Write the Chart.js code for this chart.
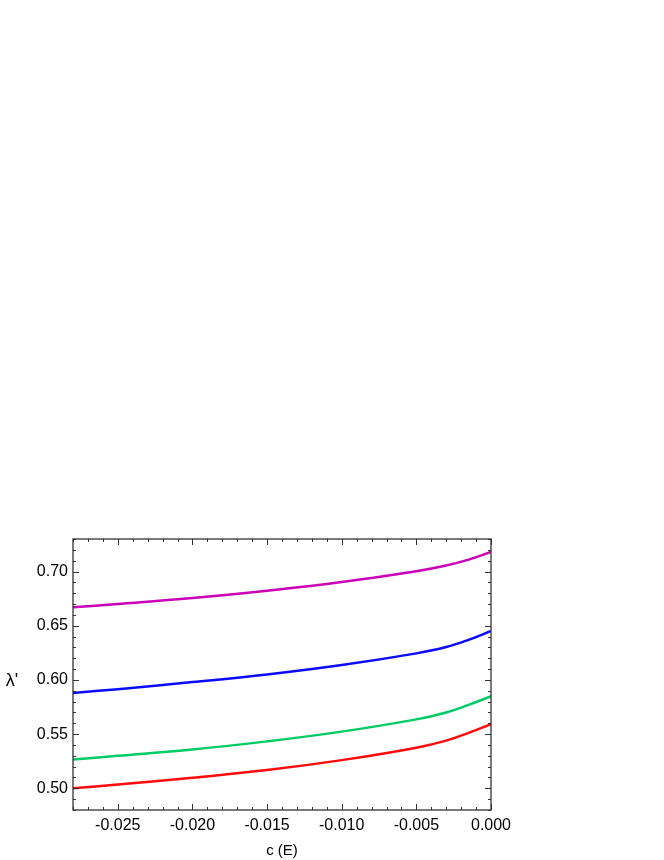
<!DOCTYPE html>
<html>
<head>
<meta charset="utf-8">
<script src="https://cdn.jsdelivr.net/npm/chart.js@4.4.1/dist/chart.umd.min.js"></script>
<style>
  html, body { margin: 0; padding: 0; background: #fff; }
  #wrap { width: 664px; height: 860px; }
</style>
</head>
<body>
<div id="wrap"><canvas id="lambdaChart" width="664" height="860"></canvas></div>
<script>
// valores de c (E)
const cValues = [-0.028, -0.025, -0.020, -0.015, -0.010, -0.005, -0.003, -0.0015, 0.000];

// curvas (de baixo para cima)
const redCurve     = [0.5000, 0.5035, 0.5098, 0.5168, 0.5260, 0.5375, 0.5440, 0.5512, 0.5593];
const greenCurve   = [0.5266, 0.5300, 0.5358, 0.5433, 0.5523, 0.5636, 0.5700, 0.5770, 0.5849];
const blueCurve    = [0.5880, 0.5915, 0.5980, 0.6050, 0.6137, 0.6245, 0.6303, 0.6370, 0.6451];
const magentaCurve = [0.6670, 0.6700, 0.6755, 0.6823, 0.6903, 0.7003, 0.7056, 0.7110, 0.7180];

// rótulos dos eixos
const xTickLabels = [-0.025, -0.020, -0.015, -0.010, -0.005, 0.000];
const yTickLabels = [0.50, 0.55, 0.60, 0.65, 0.70];
const xTitle = 'c (E)';
const yTitle = "\u03bb'";

const FONT = '"Liberation Sans", Arial, sans-serif';

const toPoints = arr => arr.map((v, i) => ({ x: cValues[i], y: v }));

const mkSet = (data, color) => ({
  data: toPoints(data),
  borderColor: color,
  backgroundColor: color,
  borderWidth: 2.5,
  pointRadius: 0,
  fill: false,
  tension: 0.4
});

// ticks internos nos quatro lados + moldura
const frameTicks = {
  id: 'frameTicks',
  afterDraw(chart) {
    const { ctx, chartArea: a, scales: { x, y } } = chart;
    ctx.save();
    ctx.strokeStyle = '#333';
    ctx.lineWidth = 1;
    ctx.beginPath();
    // eixo x: minor a cada 0.001, major a cada 0.005
    for (let k = -28; k <= 0; k++) {
      const px = Math.round(x.getPixelForValue(k / 1000)) + 0.5;
      const len = (k % 5 === 0) ? 6 : 3;
      ctx.moveTo(px, a.bottom); ctx.lineTo(px, a.bottom - len);
      ctx.moveTo(px, a.top); ctx.lineTo(px, a.top + len);
    }
    // eixo y: minor a cada 0.01, major a cada 0.05
    for (let k = 48; k <= 73; k++) {
      const py = Math.round(y.getPixelForValue(k / 100)) + 0.5;
      const len = (k % 5 === 0) ? 6 : 3;
      ctx.moveTo(a.left, py); ctx.lineTo(a.left + len, py);
      ctx.moveTo(a.right, py); ctx.lineTo(a.right - len, py);
    }
    ctx.stroke();
    ctx.lineWidth = 1.3;
    ctx.strokeRect(a.left, a.top, a.right - a.left, a.bottom - a.top);
    // título do eixo y na horizontal
    ctx.fillStyle = '#000';
    ctx.font = '18px ' + FONT;
    ctx.textAlign = 'center';
    ctx.textBaseline = 'middle';
    ctx.fillText(yTitle, 12, (a.top + a.bottom) / 2 + 7);
    ctx.restore();
  }
};

const config = {
  type: 'line',
  data: {
    datasets: [
      mkSet(magentaCurve, '#cc00b8'),
      mkSet(blueCurve, '#0a0aff'),
      mkSet(greenCurve, '#00cc66'),
      mkSet(redCurve, '#ff0a0a')
    ]
  },
  options: {
    responsive: false,
    animation: false,
    layout: { padding: { left: 0, right: 173, top: 539, bottom: 0 } },
    plugins: { legend: { display: false }, tooltip: { enabled: false } },
    scales: {
      x: {
        type: 'linear',
        min: -0.028,
        max: 0,
        grid: { display: false, drawTicks: false },
        border: { display: false },
        afterBuildTicks: s => { s.ticks = xTickLabels.map(v => ({ value: v })); },
        afterFit: s => { s.height = 50; },
        ticks: {
          padding: 6,
          color: '#000',
          maxRotation: 0,
          font: { family: FONT, size: 16 },
          callback: v => v.toFixed(3)
        },
        title: {
          display: true,
          text: xTitle,
          color: '#000',
          padding: { top: 1, bottom: 0 },
          font: { family: FONT, size: 15 }
        }
      },
      y: {
        min: 0.48,
        max: 0.73,
        grid: { display: false, drawTicks: false },
        border: { display: false },
        afterBuildTicks: s => { s.ticks = yTickLabels.map(v => ({ value: v })); },
        afterFit: s => { s.width = 73; },
        ticks: {
          padding: 5,
          color: '#000',
          font: { family: FONT, size: 16 },
          callback: v => v.toFixed(2)
        }
      }
    }
  },
  plugins: [frameTicks]
};

new Chart(document.getElementById('lambdaChart').getContext('2d'), config);
</script>
</body>
</html>
